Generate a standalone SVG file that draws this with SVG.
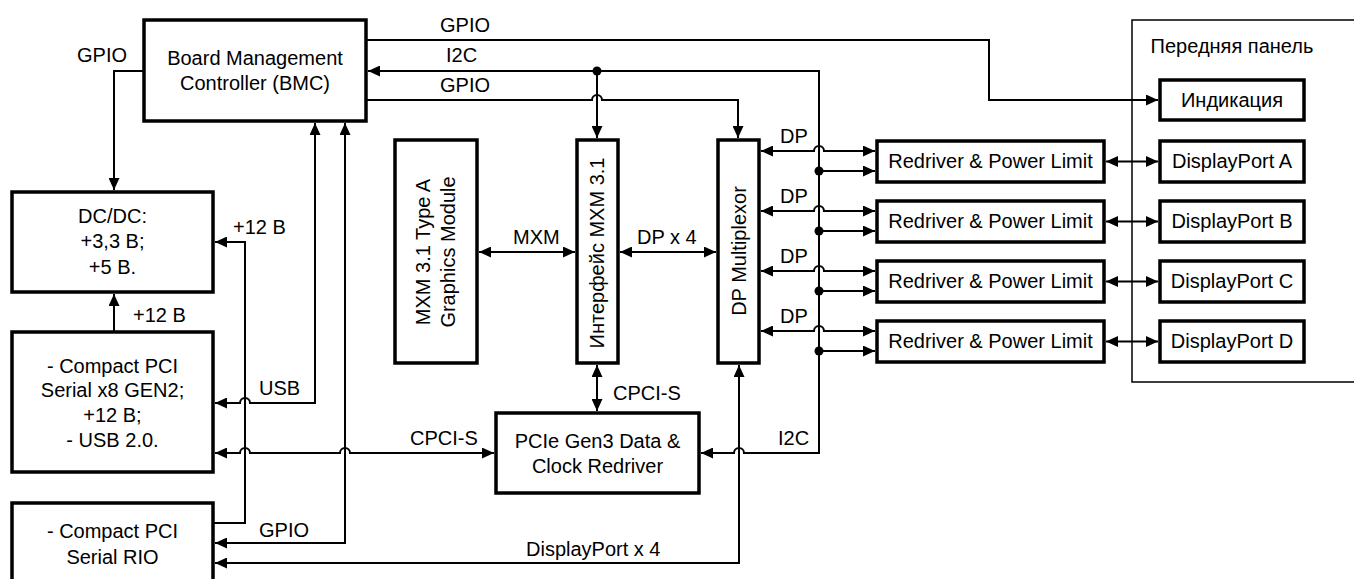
<svg xmlns="http://www.w3.org/2000/svg" width="1354" height="579" viewBox="0 0 1354 579">
<style>
.box{fill:#fff;stroke:#000;stroke-width:3.5}
.frame{fill:none;stroke:#000;stroke-width:1.5}
.ln{fill:none;stroke:#000;stroke-width:2}
.ar{marker-end:url(#a)}
.ar2{marker-start:url(#a);marker-end:url(#a)}
text{font-family:"Liberation Sans",Arial,sans-serif;font-size:20px;fill:#000}
.c{text-anchor:middle}
</style>
<defs>
<marker id="a" viewBox="0 0 12 11" refX="12" refY="5.5" markerWidth="12" markerHeight="11" markerUnits="userSpaceOnUse" orient="auto-start-reverse"><path d="M0,0 L12,5.5 L0,11 z" fill="#000"/></marker>
</defs>
<rect width="1354" height="579" fill="#fff"/>

<g id="front-panel">
<path class="frame" d="M1360,20 H1132 V382 H1360"/>
<text class="c" x="1232" y="53">Передняя панель</text>
</g>

<g id="connectors">
<!-- GPIO BMC -> DC/DC -->
<path class="ln ar" d="M144,71 H114 V190"/>
<text x="77" y="62">GPIO</text>
<!-- +12 CPCI -> DC/DC -->
<path class="ln ar" d="M114,332 V294"/>
<text x="133" y="322">+12 В</text>
<!-- +12 RIO -> DC/DC -->
<path class="ln ar" d="M213,523 H245 V242 H215"/>
<text x="233" y="234">+12 В</text>
<!-- USB -->
<path class="ln ar2" d="M215,403 H240 a5,5 0 0 1 10,0 H315 V123"/>
<text x="259" y="395">USB</text>
<!-- GPIO RIO - BMC -->
<path class="ln ar2" d="M215,543 H345 V123"/>
<text x="259" y="537">GPIO</text>
<!-- CPCI-S horizontal -->
<path class="ln ar2" d="M215,453 H240 a5,5 0 0 1 10,0 H340 a5,5 0 0 1 10,0 H494"/>
<text x="410" y="445">CPCI-S</text>
<!-- DisplayPort x 4 -->
<path class="ln ar2" d="M215,563 H739 V365"/>
<text x="526" y="556">DisplayPort x 4</text>
<!-- CPCI-S vertical -->
<path class="ln ar2" d="M597,365 V411"/>
<text x="613" y="400">CPCI-S</text>
<!-- I2C bus -->
<path class="ln ar2" d="M368,71 H819 V453 H744 a5,5 0 0 0 -10,0 H701"/>
<text x="446" y="62">I2C</text>
<text x="778" y="445">I2C</text>
<path class="ln ar" d="M597,71 V138"/>
<circle cx="597" cy="71" r="4.5"/>
<!-- GPIO BMC -> DP mux -->
<path class="ln ar" d="M366,100 H592 a5,5 0 0 1 10,0 H738 V138"/>
<text x="440" y="92">GPIO</text>
<!-- GPIO BMC -> Indication -->
<path class="ln ar" d="M366,40 H989 V100 H1158"/>
<text x="440" y="32">GPIO</text>
<!-- MXM -->
<path class="ln ar2" d="M479,252 H575"/>
<text x="513" y="244">MXM</text>
<!-- DP x 4 -->
<path class="ln ar2" d="M620,252 H716"/>
<text x="637" y="244">DP x 4</text>
<!-- DP lines to redrivers -->
<path class="ln ar2" d="M761,151 H814 a5,5 0 0 1 10,0 H875"/>
<path class="ln ar2" d="M761,211 H814 a5,5 0 0 1 10,0 H875"/>
<path class="ln ar2" d="M761,271 H814 a5,5 0 0 1 10,0 H875"/>
<path class="ln ar2" d="M761,331 H814 a5,5 0 0 1 10,0 H875"/>
<text x="780" y="143">DP</text>
<text x="780" y="203">DP</text>
<text x="780" y="263">DP</text>
<text x="780" y="323">DP</text>
<!-- I2C to redrivers -->
<path class="ln ar" d="M819,171 H875"/>
<path class="ln ar" d="M819,231 H875"/>
<path class="ln ar" d="M819,291 H875"/>
<path class="ln ar" d="M819,351 H875"/>
<circle cx="819" cy="171" r="4.5"/>
<circle cx="819" cy="231" r="4.5"/>
<circle cx="819" cy="291" r="4.5"/>
<circle cx="819" cy="351" r="4.5"/>
<!-- Redriver <-> DisplayPort -->
<path class="ln ar2" d="M1106,161.5 H1158"/>
<path class="ln ar2" d="M1106,221.5 H1158"/>
<path class="ln ar2" d="M1106,281.5 H1158"/>
<path class="ln ar2" d="M1106,341.5 H1158"/>
</g>

<g id="bmc">
<rect class="box" x="144" y="20" width="222" height="101"/>
<text class="c" x="255" y="65">Board Management</text>
<text class="c" x="255" y="90">Controller (BMC)</text>
</g>
<g id="dcdc">
<rect class="box" x="12" y="192" width="201" height="100"/>
<text class="c" x="112.5" y="223">DC/DC:</text>
<text class="c" x="112.5" y="248">+3,3 В;</text>
<text class="c" x="112.5" y="274">+5 В.</text>
</g>
<g id="cpci">
<rect class="box" x="12" y="332" width="201" height="140"/>
<text class="c" x="112.5" y="373">- Compact PCI</text>
<text class="c" x="112.5" y="397">Serial x8 GEN2;</text>
<text class="c" x="112.5" y="422">+12 В;</text>
<text class="c" x="112.5" y="447">- USB 2.0.</text>
</g>
<g id="rio">
<rect class="box" x="12" y="503" width="201" height="100"/>
<text class="c" x="112.5" y="538">- Compact PCI</text>
<text class="c" x="112.5" y="564">Serial RIO</text>
</g>
<g id="mxm-module">
<rect class="box" x="395" y="140" width="82" height="223"/>
<text class="c" transform="translate(430,252) rotate(-90)">MXM 3.1 Type A</text>
<text class="c" transform="translate(455,252) rotate(-90)">Graphics Module</text>
</g>
<g id="mxm-interface">
<rect class="box" x="577" y="140" width="41" height="223"/>
<text class="c" transform="translate(604,253) rotate(-90)">Интерфейс MXM 3.1</text>
</g>
<g id="dp-mux">
<rect class="box" x="718" y="140" width="41" height="223"/>
<text class="c" transform="translate(746,251) rotate(-90)">DP Multiplexor</text>
</g>
<g id="pcie">
<rect class="box" x="496" y="413" width="203" height="80"/>
<text class="c" x="597.5" y="448">PCIe Gen3 Data &amp;</text>
<text class="c" x="597.5" y="473">Clock Redriver</text>
</g>
<g id="redriver-a">
<rect class="box" x="877" y="141" width="227" height="41"/>
<text class="c" x="990.5" y="168">Redriver &amp; Power Limit</text>
</g>
<g id="redriver-b">
<rect class="box" x="877" y="201" width="227" height="41"/>
<text class="c" x="990.5" y="228">Redriver &amp; Power Limit</text>
</g>
<g id="redriver-c">
<rect class="box" x="877" y="261" width="227" height="41"/>
<text class="c" x="990.5" y="288">Redriver &amp; Power Limit</text>
</g>
<g id="redriver-d">
<rect class="box" x="877" y="321" width="227" height="41"/>
<text class="c" x="990.5" y="348">Redriver &amp; Power Limit</text>
</g>
<g id="indication">
<rect class="box" x="1160" y="80" width="144" height="40"/>
<text class="c" x="1232" y="107">Индикация</text>
</g>
<g id="dp-a">
<rect class="box" x="1160" y="141" width="144" height="41"/>
<text class="c" x="1232" y="168">DisplayPort A</text>
</g>
<g id="dp-b">
<rect class="box" x="1160" y="201" width="144" height="41"/>
<text class="c" x="1232" y="228">DisplayPort B</text>
</g>
<g id="dp-c">
<rect class="box" x="1160" y="261" width="144" height="41"/>
<text class="c" x="1232" y="288">DisplayPort C</text>
</g>
<g id="dp-d">
<rect class="box" x="1160" y="321" width="144" height="41"/>
<text class="c" x="1232" y="348">DisplayPort D</text>
</g>
</svg>
